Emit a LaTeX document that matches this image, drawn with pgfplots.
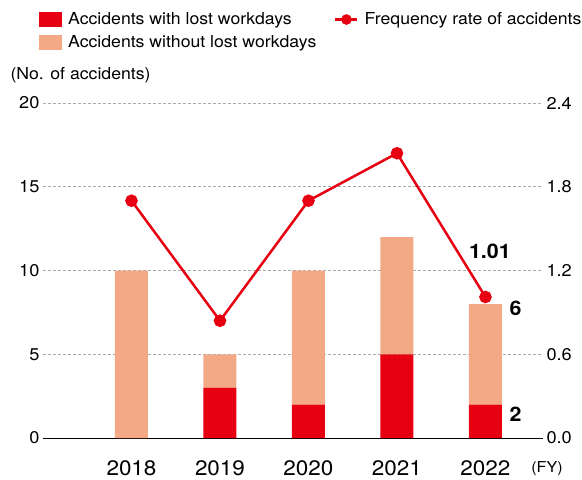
\documentclass[border=0pt]{standalone}
\usepackage{pgfplots}
\pgfplotsset{compat=1.18}
\usepackage{fontspec}
\setmainfont[FakeStretch=1.07]{TeX Gyre Heros}
\definecolor{lostred}{RGB}{230,0,18}
\definecolor{nolost}{RGB}{243,168,134}
\definecolor{gridgray}{RGB}{170,170,170}

\begin{document}
\begin{tikzpicture}
\useasboundingbox (0pt,0pt) rectangle (582pt,480pt);
\pgfplotsset{
  common/.style={
    at={(43pt,42pt)}, anchor=south west,
    scale only axis, width=500pt, height=335pt,
    xmin=-1, xmax=4.65,
    axis line style={draw=none},
    major tick length=0pt,
    clip=false,
    /pgf/number format/assume math mode=true,
    yticklabel style={font=\fontsize{17}{20}\selectfont},
  },
  barleg/.style={legend image code/.code={\draw[##1,draw=none] (0pt,-7.5pt) rectangle (23pt,7.5pt); \path (27pt,0pt);}},
}
\begin{axis}[common,
  ybar stacked, bar width=33pt,
  ymin=0, ymax=20, ytick={0,5,10,15,20},
  xtick={0,1,2,3,4}, xticklabels={2018,2019,2020,2021,2022},
  xticklabel style={font=\fontsize{21}{25}\selectfont, anchor=center, inner sep=1pt, yshift=-30pt},
  ymajorgrids, grid style={gridgray, line width=0.8pt, dash pattern=on 3pt off 2pt},
  extra y ticks={0}, extra y tick labels={},
  extra y tick style={grid style={black, solid, line width=1pt}},
  legend style={at={(-0.008,1.276)}, anchor=north west, draw=none, fill=none,
    font=\fontsize{16.5}{19}\selectfont, legend cell align=left,
    row sep=5pt, inner sep=0pt},
]
\addplot[fill=lostred, draw=none, barleg] coordinates {(0,0) (1,3) (2,2) (3,5) (4,2)};
\addlegendentry{Accidents with lost workdays}
\addplot[fill=nolost, draw=none, barleg] coordinates {(0,10) (1,2) (2,8) (3,7) (4,6)};
\addlegendentry{Accidents without lost workdays}
\node[anchor=west, font=\fontsize{16.5}{19}\selectfont] at (rel axis cs:-0.072,1.084) {(No. of accidents)};
\node[font=\fontsize{15}{18}\selectfont, inner sep=1pt] at (rel axis cs:1.008,-0.09) {(FY)};
\node[font=\fontsize{20}{24}\selectfont\bfseries] at (axis cs:4.34,7.76) {6};
\node[font=\fontsize{20}{24}\selectfont\bfseries] at (axis cs:4.34,1.43) {2};
\end{axis}
\begin{axis}[common,
  ymin=0, ymax=2.4, ytick={0,0.6,1.2,1.8,2.4},
  yticklabel pos=right,
  yticklabel style={/pgf/number format/.cd, fixed, fixed zerofill, precision=1},
  xtick=\empty,
  legend style={at={(0.582,1.276)}, anchor=north west, draw=none, fill=none,
    font=\fontsize{16.5}{19}\selectfont, inner sep=0pt},
]
\addplot[lostred, line width=2.5pt, mark=*, mark size=5pt,
  legend image code/.code={\draw[lostred, line width=2.5pt] (0pt,0pt) -- (22pt,0pt); \fill[lostred] (11pt,0pt) circle (4pt); \path (26pt,0pt);}]
  coordinates {(0,1.70) (1,0.84) (2,1.70) (3,2.04) (4,1.01)};
\addlegendentry{Frequency rate of accidents}
\node[font=\fontsize{20}{24}\selectfont\bfseries] at (axis cs:4.05,1.34) {1.01};
\end{axis}
\end{tikzpicture}
\end{document}
